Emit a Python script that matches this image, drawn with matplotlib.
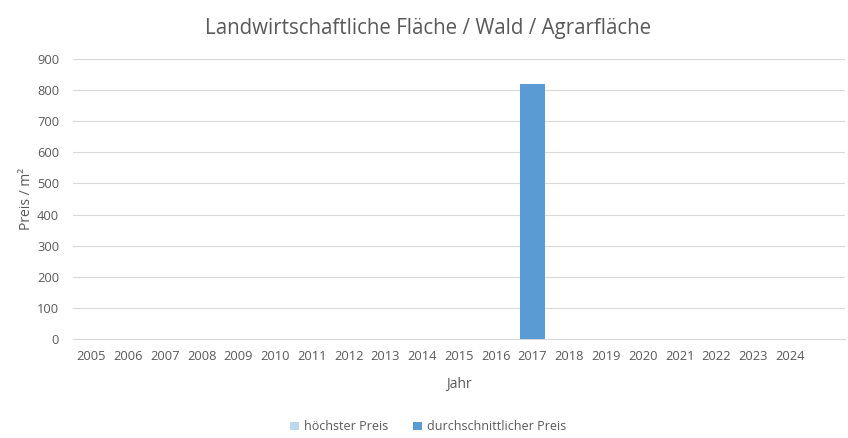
import matplotlib
matplotlib.use("Agg")
import matplotlib.pyplot as plt
import numpy as np

years = [str(y) for y in range(2005, 2025)] + ['']
hoechster = [0]*21
durchschnitt = [0, 0, 0, 0, 0, 0, 0, 0, 0, 0, 0, 0, 820, 0, 0, 0, 0, 0, 0, 0, 0]
yticks = list(range(0, 1000, 100))

plt.rcParams['font.family'] = ['Open Sans', 'DejaVu Sans']
txt = '#595959'

fig = plt.figure(figsize=(8.48, 4.38), dpi=100)
ax = fig.add_axes([73/848, 99/438, 772/848, 280/438])
x = np.arange(len(years))
ax.bar(x, hoechster, width=0.68, color='#BDD7EE', label='höchster Preis', zorder=3)
ax.bar(x, durchschnitt, width=0.68, color='#5B9BD5', label='durchschnittlicher Preis', zorder=3)
ax.set_xlim(-0.5, len(years)-0.5)
ax.set_ylim(0, 900)
ax.set_yticks(yticks)
ax.set_xticks(x)
ax.set_xticklabels(years)
ax.grid(axis='y', color='#D9D9D9', linewidth=0.8, zorder=0)
for s in ['top', 'right', 'left']:
    ax.spines[s].set_visible(False)
ax.spines['bottom'].set_color('#D9D9D9')
ax.tick_params(axis='both', length=0, colors=txt, labelsize=9.3)
ax.tick_params(axis='x', pad=8)
ax.tick_params(axis='y', pad=10)
ax.set_xlabel('Jahr', color=txt, fontsize=10, labelpad=10)
ax.set_ylabel('Preis / m²', color=txt, fontsize=10, labelpad=2)
fig.suptitle('Landwirtschaftliche Fläche / Wald / Agrarfläche', color=txt, fontsize=14.8, y=0.96, x=0.505)
leg = fig.legend(loc='lower center', bbox_to_anchor=(0.505, -0.015), ncol=2, frameon=False,
                 fontsize=9, handlelength=0.7, handleheight=0.7, columnspacing=2.0, handletextpad=0.4)
for t in leg.get_texts():
    t.set_color(txt)
fig.savefig('out.png', dpi=100)
